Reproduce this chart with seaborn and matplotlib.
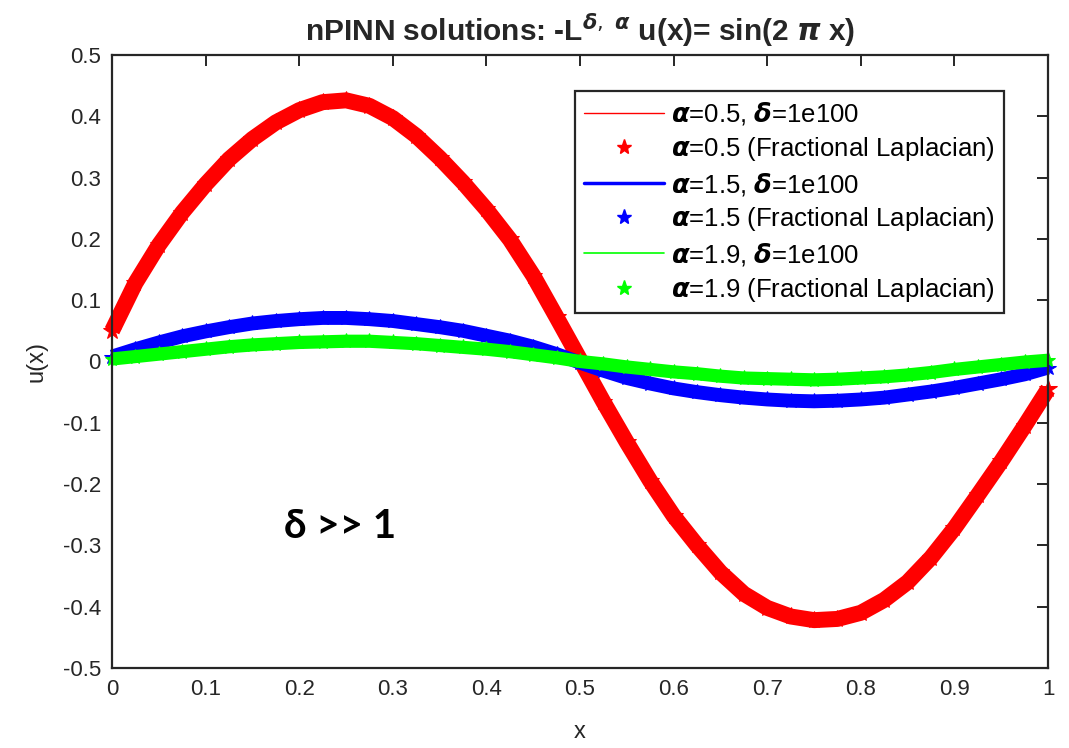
import matplotlib
matplotlib.use("Agg")
import numpy as np
import pandas as pd
import seaborn as sns
import matplotlib.pyplot as plt
from matplotlib.lines import Line2D

# ---- data ----
x_vals = [0.000, 0.025, 0.050, 0.075, 0.100, 0.125, 0.150, 0.175, 0.200, 0.225,
          0.250, 0.275, 0.300, 0.325, 0.350, 0.375, 0.400, 0.425, 0.450, 0.475,
          0.500, 0.525, 0.550, 0.575, 0.600, 0.625, 0.650, 0.675, 0.700, 0.725,
          0.750, 0.775, 0.800, 0.825, 0.850, 0.875, 0.900, 0.925, 0.950, 0.975,
          1.000]

u_alpha05 = [0.050, 0.128, 0.190, 0.243, 0.289, 0.330, 0.363, 0.390, 0.410, 0.423,
             0.426, 0.417, 0.397, 0.368, 0.332, 0.292, 0.248, 0.199, 0.140, 0.072,
             0.003, -0.066, -0.132, -0.195, -0.252, -0.300, -0.344, -0.379, -0.402, -0.416,
             -0.422, -0.420, -0.410, -0.389, -0.360, -0.320, -0.272, -0.218, -0.163, -0.105,
             -0.045]

u_alpha15 = [0.008, 0.020, 0.031, 0.041, 0.049, 0.056, 0.062, 0.066, 0.069, 0.071,
             0.071, 0.069, 0.066, 0.061, 0.056, 0.050, 0.042, 0.034, 0.024, 0.012,
             -0.002, -0.015, -0.027, -0.036, -0.044, -0.050, -0.055, -0.059, -0.062, -0.064,
             -0.065, -0.064, -0.062, -0.059, -0.054, -0.049, -0.043, -0.036, -0.029, -0.021,
             -0.010]

u_alpha19 = [0.004, 0.008, 0.012, 0.016, 0.020, 0.024, 0.027, 0.029, 0.031, 0.032,
             0.033, 0.033, 0.031, 0.029, 0.026, 0.023, 0.020, 0.016, 0.011, 0.006,
             0.000, -0.004, -0.009, -0.013, -0.017, -0.020, -0.024, -0.027, -0.028, -0.029,
             -0.030, -0.029, -0.027, -0.025, -0.022, -0.018, -0.013, -0.009, -0.005, -0.001,
             0.002]

alpha_labels = ["0.5", "1.5", "1.9"]
series_colors = ["#ff0000", "#0000ff", "#00ff00"]
legend_line_widths = [1.0, 2.5, 1.2]

x_ticks = [0, 0.1, 0.2, 0.3, 0.4, 0.5, 0.6, 0.7, 0.8, 0.9, 1.0]
x_tick_labels = ["0", "0.1", "0.2", "0.3", "0.4", "0.5", "0.6", "0.7", "0.8", "0.9", "1"]
y_ticks = [-0.5, -0.4, -0.3, -0.2, -0.1, 0, 0.1, 0.2, 0.3, 0.4, 0.5]
y_tick_labels = ["-0.5", "-0.4", "-0.3", "-0.2", "-0.1", "0", "0.1", "0.2", "0.3", "0.4", "0.5"]

# ---- styling ----
sns.set_theme(style="white")
plt.rcParams["font.family"] = ["Liberation Sans", "DejaVu Sans"]
plt.rcParams["mathtext.fontset"] = "dejavusans"

fig = plt.figure(figsize=(10.69, 7.48), dpi=100)
ax = fig.add_axes([0.1048, 0.107, 0.8756, 0.8195])

df = pd.DataFrame({"x": x_vals, "a05": u_alpha05, "a15": u_alpha15, "a19": u_alpha19})
cols = ["a05", "a15", "a19"]
band_widths = [11.5, 10.0, 9.5]
star_sizes = [13, 11.5, 11]

for col, c, bw, ms in zip(cols, series_colors, band_widths, star_sizes):
    # nPINN solution line (thin) underneath
    sns.lineplot(data=df, x="x", y=col, ax=ax, color=c, linewidth=1.2,
                 estimator=None, sort=False, legend=False)
    # fractional Laplacian reference (dense stars -> thick band)
    sns.lineplot(data=df, x="x", y=col, ax=ax, color=c, linewidth=bw,
                 marker="*", markersize=ms, markeredgecolor=c, markerfacecolor=c,
                 solid_capstyle="butt", solid_joinstyle="round",
                 estimator=None, sort=False, legend=False, clip_on=False)

ax.set_xlim(0, 1)
ax.set_ylim(-0.5, 0.5)
ax.set_xticks(x_ticks)
ax.set_xticklabels(x_tick_labels)
ax.set_yticks(y_ticks)
ax.set_yticklabels(y_tick_labels)

frame_color = "#262626"
for sp in ax.spines.values():
    sp.set_visible(True)
    sp.set_color(frame_color)
    sp.set_linewidth(1.6)
ax.tick_params(direction="in", top=True, right=True, length=8, width=1.4,
               color=frame_color, labelsize=16, labelcolor=frame_color, pad=8)

ax.set_xlabel("x", fontsize=17, color=frame_color, labelpad=15)
ax.set_ylabel("u(x)", fontsize=17, color=frame_color, labelpad=11)
ax.set_title(r"nPINN solutions: -L$^{\boldsymbol{\delta},\ \boldsymbol{\alpha}}$ u(x)= sin(2 $\boldsymbol{\pi}$ x)",
             fontsize=21.5, fontweight="bold", color=frame_color, pad=10)

ax.text(0.244, -0.27, "δ >> 1", fontsize=29, fontweight="bold",
        family=["Lato", "DejaVu Sans"], ha="center", va="center", color="black")

# ---- legend ----
handles, labels = [], []
for a, c, lw in zip(alpha_labels, series_colors, legend_line_widths):
    handles.append(Line2D([], [], color=c, linewidth=lw))
    labels.append(r"$\boldsymbol{\alpha}$=" + a + r", $\boldsymbol{\delta}$=1e100")
    handles.append(Line2D([], [], color=c, linestyle="none", marker="*", markersize=11))
    labels.append(r"$\boldsymbol{\alpha}$=" + a + " (Fractional Laplacian)")

leg = ax.legend(handles, labels, loc="upper right", bbox_to_anchor=(0.953, 0.941),
                bbox_transform=ax.transAxes, borderaxespad=0, fontsize=18.5,
                frameon=True, fancybox=False, framealpha=1, edgecolor=frame_color,
                handlelength=3.1, handletextpad=0.3, labelspacing=0.3,
                borderpad=0.35)
leg.get_frame().set_linewidth(1.6)
for t in leg.get_texts():
    t.set_color("black")

fig.savefig("out.png", dpi=100)
